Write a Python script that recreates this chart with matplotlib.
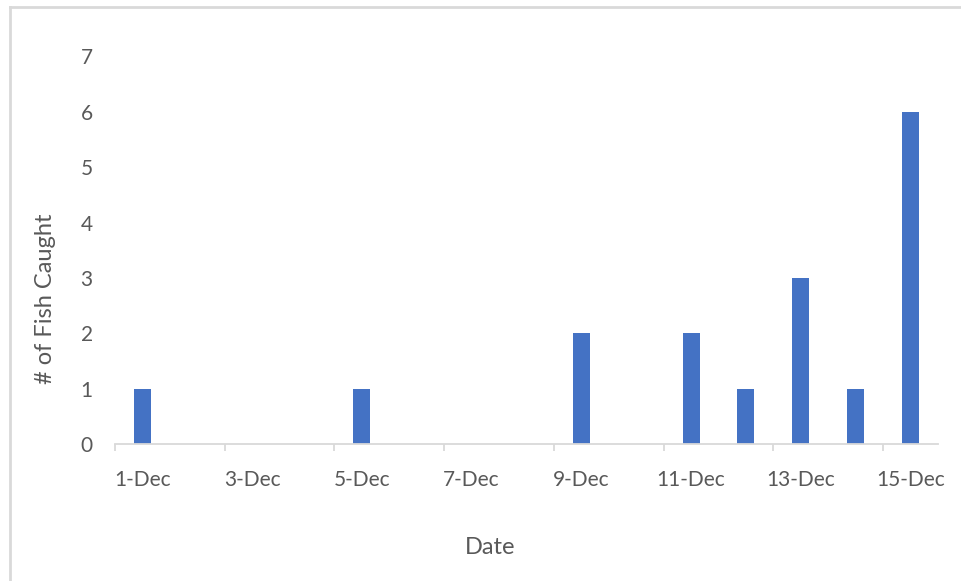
import numpy as np
import matplotlib
matplotlib.use("Agg")
import matplotlib.pyplot as plt
from matplotlib.lines import Line2D

# data: day of December vs fish caught
days = [1, 2, 3, 4, 5, 6, 7, 8, 9, 10, 11, 12, 13, 14, 15]
fish = [1, 0, 0, 0, 1, 0, 0, 0, 2, 0, 2, 1, 3, 1, 6]
label_days = [1, 3, 5, 7, 9, 11, 13, 15]
tick_labels = ["%d-Dec" % d for d in label_days]

plt.rcParams['font.family'] = ['Lato', 'DejaVu Sans']

W, H = 961, 581
fig = plt.figure(figsize=(W / 100, H / 100), dpi=100)
ax = fig.add_axes([115 / W, 1 - 444 / H, (938 - 115) / W, (444 - 56.5) / H])

text_col = "#595959"
axis_col = "#D9D9D9"

ax.bar(days, fish, width=0.31, color="#4472C4")

ax.set_xlim(0.5, 15.5)
ax.set_ylim(0, 7)
ax.set_yticks(range(0, 8))

# tick marks between categories, labels centred on the dates
ax.set_xticks(np.arange(0.5, 15, 2))
ax.set_xticklabels([])
ax.set_xticks(label_days, minor=True)
ax.set_xticklabels(tick_labels, minor=True)
ax.tick_params(axis="x", which="major", length=5, width=1.3, color=axis_col)
ax.tick_params(axis="x", which="minor", length=0, pad=19,
               labelsize=15, labelcolor=text_col)
ax.tick_params(axis="y", length=0, pad=16, labelsize=15, labelcolor=text_col)

for s in ["top", "right", "left"]:
    ax.spines[s].set_visible(False)
ax.spines["bottom"].set_color(axis_col)
ax.spines["bottom"].set_linewidth(1.3)

fig.text(490 / W, 1 - 547 / H, "Date", ha="center", va="center",
         fontsize=17, color=text_col)
fig.text(46 / W, 1 - 299 / H, "# of Fish Caught", ha="center", va="center",
         rotation=90, fontsize=17, color=text_col)

# light chart frame (only top and left edges show)
fig.add_artist(Line2D([10 / W, 10 / W], [1 - 7 / H, 0], color=axis_col,
                      lw=2, transform=fig.transFigure))
fig.add_artist(Line2D([10 / W, 1], [1 - 7 / H, 1 - 7 / H], color=axis_col,
                      lw=2, transform=fig.transFigure))

fig.savefig("out.png", dpi=100)
